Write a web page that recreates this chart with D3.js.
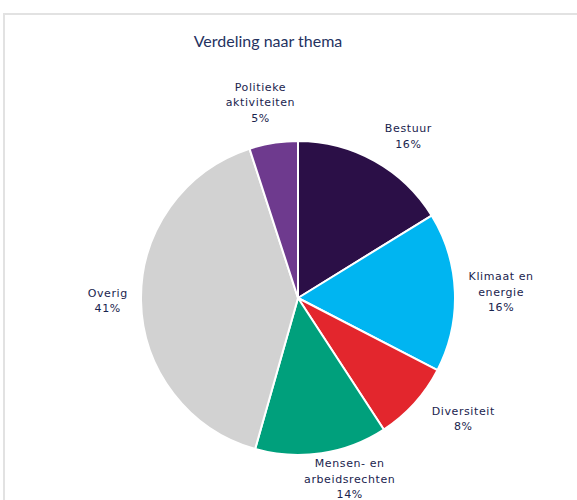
<!DOCTYPE html>
<html>
<head>
<meta charset="utf-8">
<script src="https://cdn.jsdelivr.net/npm/d3@7"></script>
<style>
  body { margin: 0; background: #fff; }
  svg { display: block; }
</style>
</head>
<body>
<svg id="pie-svg" width="577" height="500"></svg>
<script>
// Chart data
const categories = ["Bestuur", "Klimaat en energie", "Diversiteit", "Mensen- en arbeidsrechten", "Overig", "Politieke aktiviteiten"];
const labelLines = [["Bestuur"], ["Klimaat en", "energie"], ["Diversiteit"], ["Mensen- en", "arbeidsrechten"], ["Overig"], ["Politieke", "aktiviteiten"]];
const shares = [16.2, 16.4, 8.2, 13.6, 40.6, 5.0];
const percentLabels = ["16%", "16%", "8%", "14%", "41%", "5%"];
const colors = ["#2b0f47", "#00b5f1", "#e3262d", "#00a07c", "#d2d2d2", "#6e3a8e"];

const svg = d3.select("#pie-svg");
const width = +svg.attr("width");
const height = +svg.attr("height");

// chart area frame (light grey border, cut off on the right and bottom)
svg.append("rect")
  .attr("x", 4).attr("y", 14)
  .attr("width", width + 10).attr("height", height + 10)
  .attr("fill", "none")
  .attr("stroke", "#e2e2e2")
  .attr("stroke-width", 2);

// title
svg.append("text")
  .attr("x", 268).attr("y", 47)
  .attr("text-anchor", "middle")
  .style("font-family", "Lato, sans-serif")
  .style("font-size", "16px")
  .style("fill", "#25325f")
  .text("Verdeling naar thema");

const cx = 298, cy = 298, radius = 157;
const g = svg.append("g").attr("transform", `translate(${cx},${cy})`);

const data = categories.map((c, i) => ({ name: c, value: shares[i], lines: labelLines[i], pct: percentLabels[i], color: colors[i] }));

const pie = d3.pie().sort(null).value(d => d.value);
const arc = d3.arc().innerRadius(0).outerRadius(radius);
const arcs = pie(data);

g.selectAll("path")
  .data(arcs)
  .enter().append("path")
  .attr("d", arc)
  .attr("fill", d => d.data.color)
  .attr("stroke", "white")
  .attr("stroke-width", 2)
  .attr("stroke-linejoin", "round");

// labels, placed outside the pie like Excel's "best fit"
const lineHeight = 15.5;
const labels = g.selectAll(".slice-label")
  .data(arcs)
  .enter().append("text")
  .attr("class", "slice-label")
  .attr("text-anchor", "middle")
  .style("font-family", "'DejaVu Sans', sans-serif")
  .style("font-size", "11px")
  .style("letter-spacing", "0.6px")
  .style("fill", "#1a244e");

labels.each(function(d) {
  const t = d3.select(this);
  const lines = d.data.lines.concat([d.data.pct]);
  lines.forEach((s, i) => {
    t.append("tspan").attr("x", 0).attr("dy", i === 0 ? 0 : lineHeight).text(s);
  });
  const bb = this.getBBox();
  const hw = bb.width / 2, hh = (lines.length * lineHeight) / 2;
  let a = (d.startAngle + d.endAngle) / 2;
  // labels drift a little towards the horizontal, as Excel does
  a += (6 * Math.PI / 180) * Math.sin(2 * a);
  const sx = Math.sin(a), sy = -Math.cos(a);
  const dist = radius + 13 + Math.abs(sx) * hw + Math.abs(sy) * hh;
  let x = sx * dist, y = sy * dist;
  // keep the label block near the bottom edge of the picture
  const maxY = height - cy - hh + 2;
  if (y > maxY) { x += (y - maxY) * 0.9 * Math.sign(sx); y = maxY; }
  const firstBase = y - hh + lineHeight * 0.75;
  t.attr("transform", `translate(${x},${firstBase})`);
});
</script>
</body>
</html>
